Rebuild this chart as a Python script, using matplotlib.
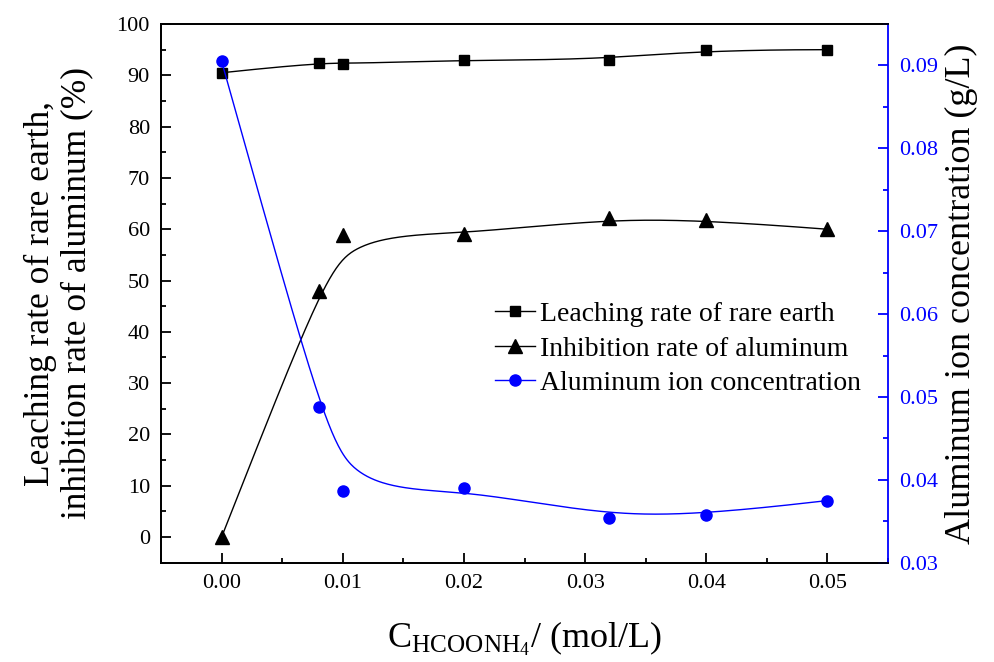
import numpy as np
import matplotlib
matplotlib.use("Agg")
import matplotlib.pyplot as plt
from matplotlib.ticker import MultipleLocator, FormatStrFormatter
from matplotlib.lines import Line2D

plt.rcParams['font.family'] = ['Liberation Serif', 'DejaVu Serif']
plt.rcParams['mathtext.fontset'] = 'custom'
plt.rcParams['mathtext.rm'] = 'Liberation Serif'
plt.rcParams['mathtext.it'] = 'Liberation Serif:italic'

# ---- data ----
conc = [0.0, 0.008, 0.01, 0.02, 0.032, 0.04, 0.05]
leaching = [90.5, 92.5, 92.2, 93.0, 93.0, 95.0, 95.0]
inhibition = [0.0, 48.0, 58.8, 59.0, 62.2, 61.8, 60.0]
al_conc = [0.0905, 0.0488, 0.0386, 0.0390, 0.0354, 0.0358, 0.0375]

x_ticks = [0.0, 0.01, 0.02, 0.03, 0.04, 0.05]
left_ticks = list(range(0, 101, 10))
right_ticks = [0.03, 0.04, 0.05, 0.06, 0.07, 0.08, 0.09]


def bspline(xs, ys, n=300, k=3):
    P = np.column_stack([xs, ys]).astype(float)
    m = len(P)
    knots = np.concatenate([np.zeros(k), np.linspace(0, 1, m - k + 1), np.ones(k)])
    t = np.linspace(0, 1, n)
    t[-1] = 1 - 1e-12

    def N(i, p, tt):
        if p == 0:
            return np.where((knots[i] <= tt) & (tt < knots[i + 1]), 1.0, 0.0)
        a = 0.0
        d1 = knots[i + p] - knots[i]
        if d1 > 0:
            a = (tt - knots[i]) / d1 * N(i, p - 1, tt)
        b = 0.0
        d2 = knots[i + p + 1] - knots[i + 1]
        if d2 > 0:
            b = (knots[i + p + 1] - tt) / d2 * N(i + 1, p - 1, tt)
        return a + b

    B = np.array([N(i, k, t) for i in range(m)])
    C = B.T @ P
    return C[:, 0], C[:, 1]


fig = plt.figure(figsize=(9.94, 6.62), dpi=100)
ax = fig.add_axes([0.162, 0.150, 0.7314, 0.8137])
ax2 = ax.twinx()

lw = 1.0
ms_sq, ms_tri, ms_cir = 7, 10, 8
sx, sy = bspline(conc, leaching)
ax.plot(sx, sy, color='black', lw=lw)
ax.plot(conc, leaching, ls='none', marker='s', ms=ms_sq, color='black')
sx, sy = bspline(conc, inhibition)
ax.plot(sx, sy, color='black', lw=lw)
ax.plot(conc, inhibition, ls='none', marker='^', ms=ms_tri, color='black')
sx, sy = bspline(conc, al_conc)
ax2.plot(sx, sy, color='blue', lw=lw)
ax2.plot(conc, al_conc, ls='none', marker='o', ms=ms_cir, color='blue')

ax.set_xlim(-0.005, 0.055)
ax.set_ylim(-5, 100)
ax2.set_ylim(0.03, 0.095)

ax.set_xticks(x_ticks)
ax.xaxis.set_major_formatter(FormatStrFormatter('%.2f'))
ax.xaxis.set_minor_locator(MultipleLocator(0.005))
ax.set_yticks(left_ticks)
ax.yaxis.set_minor_locator(MultipleLocator(5))
ax2.set_yticks(right_ticks)
ax2.yaxis.set_major_formatter(FormatStrFormatter('%.2f'))
ax2.yaxis.set_minor_locator(MultipleLocator(0.005))

ax.tick_params(axis='both', which='major', direction='in', length=7, width=1.3, labelsize=16, pad=8)
ax.tick_params(axis='both', which='minor', direction='in', length=3.5, width=1.3)
ax.tick_params(axis='x', top=False, which='both')
ax2.tick_params(axis='y', which='major', direction='in', length=7, width=1.3, labelsize=16,
                colors='blue', pad=8)
ax2.tick_params(axis='y', which='minor', direction='in', length=3.5, width=1.3, colors='blue')

for s in ['left', 'bottom', 'top']:
    ax.spines[s].set_linewidth(1.3)
    ax2.spines[s].set_linewidth(1.3)
ax2.spines['right'].set_linewidth(1.3)
ax2.spines['right'].set_color('blue')
ax.spines['right'].set_visible(False)

ax.set_ylabel('Leaching rate of rare earth,\ninhibition rate of aluminum (%)', fontsize=25.5,
              linespacing=1.14)
ax.yaxis.set_label_coords(-0.092, 0.5)
ax2.set_ylabel('Aluminum ion concentration (g/L)', fontsize=26)
ax2.yaxis.set_label_coords(1.078, 0.5)
ax.set_xlabel(r'C$_{\mathregular{HCOONH}_{\mathregular{4}}}$/ (mol/L)', fontsize=26)
ax.xaxis.set_label_coords(0.5, -0.105)

handles = [
    Line2D([], [], color='black', lw=lw, marker='s', ms=ms_sq),
    Line2D([], [], color='black', lw=lw, marker='^', ms=ms_tri),
    Line2D([], [], color='blue', lw=lw, marker='o', ms=ms_cir),
]
labels = ['Leaching rate of rare earth', 'Inhibition rate of aluminum', 'Aluminum ion concentration']
ax2.legend(handles, labels, loc='upper left', bbox_to_anchor=(0.459, 0.485), frameon=False,
           fontsize=20, handlelength=1.45, handletextpad=0.18, labelspacing=0.33, borderpad=0,
           borderaxespad=0)

fig.savefig('out.png', dpi=100)
